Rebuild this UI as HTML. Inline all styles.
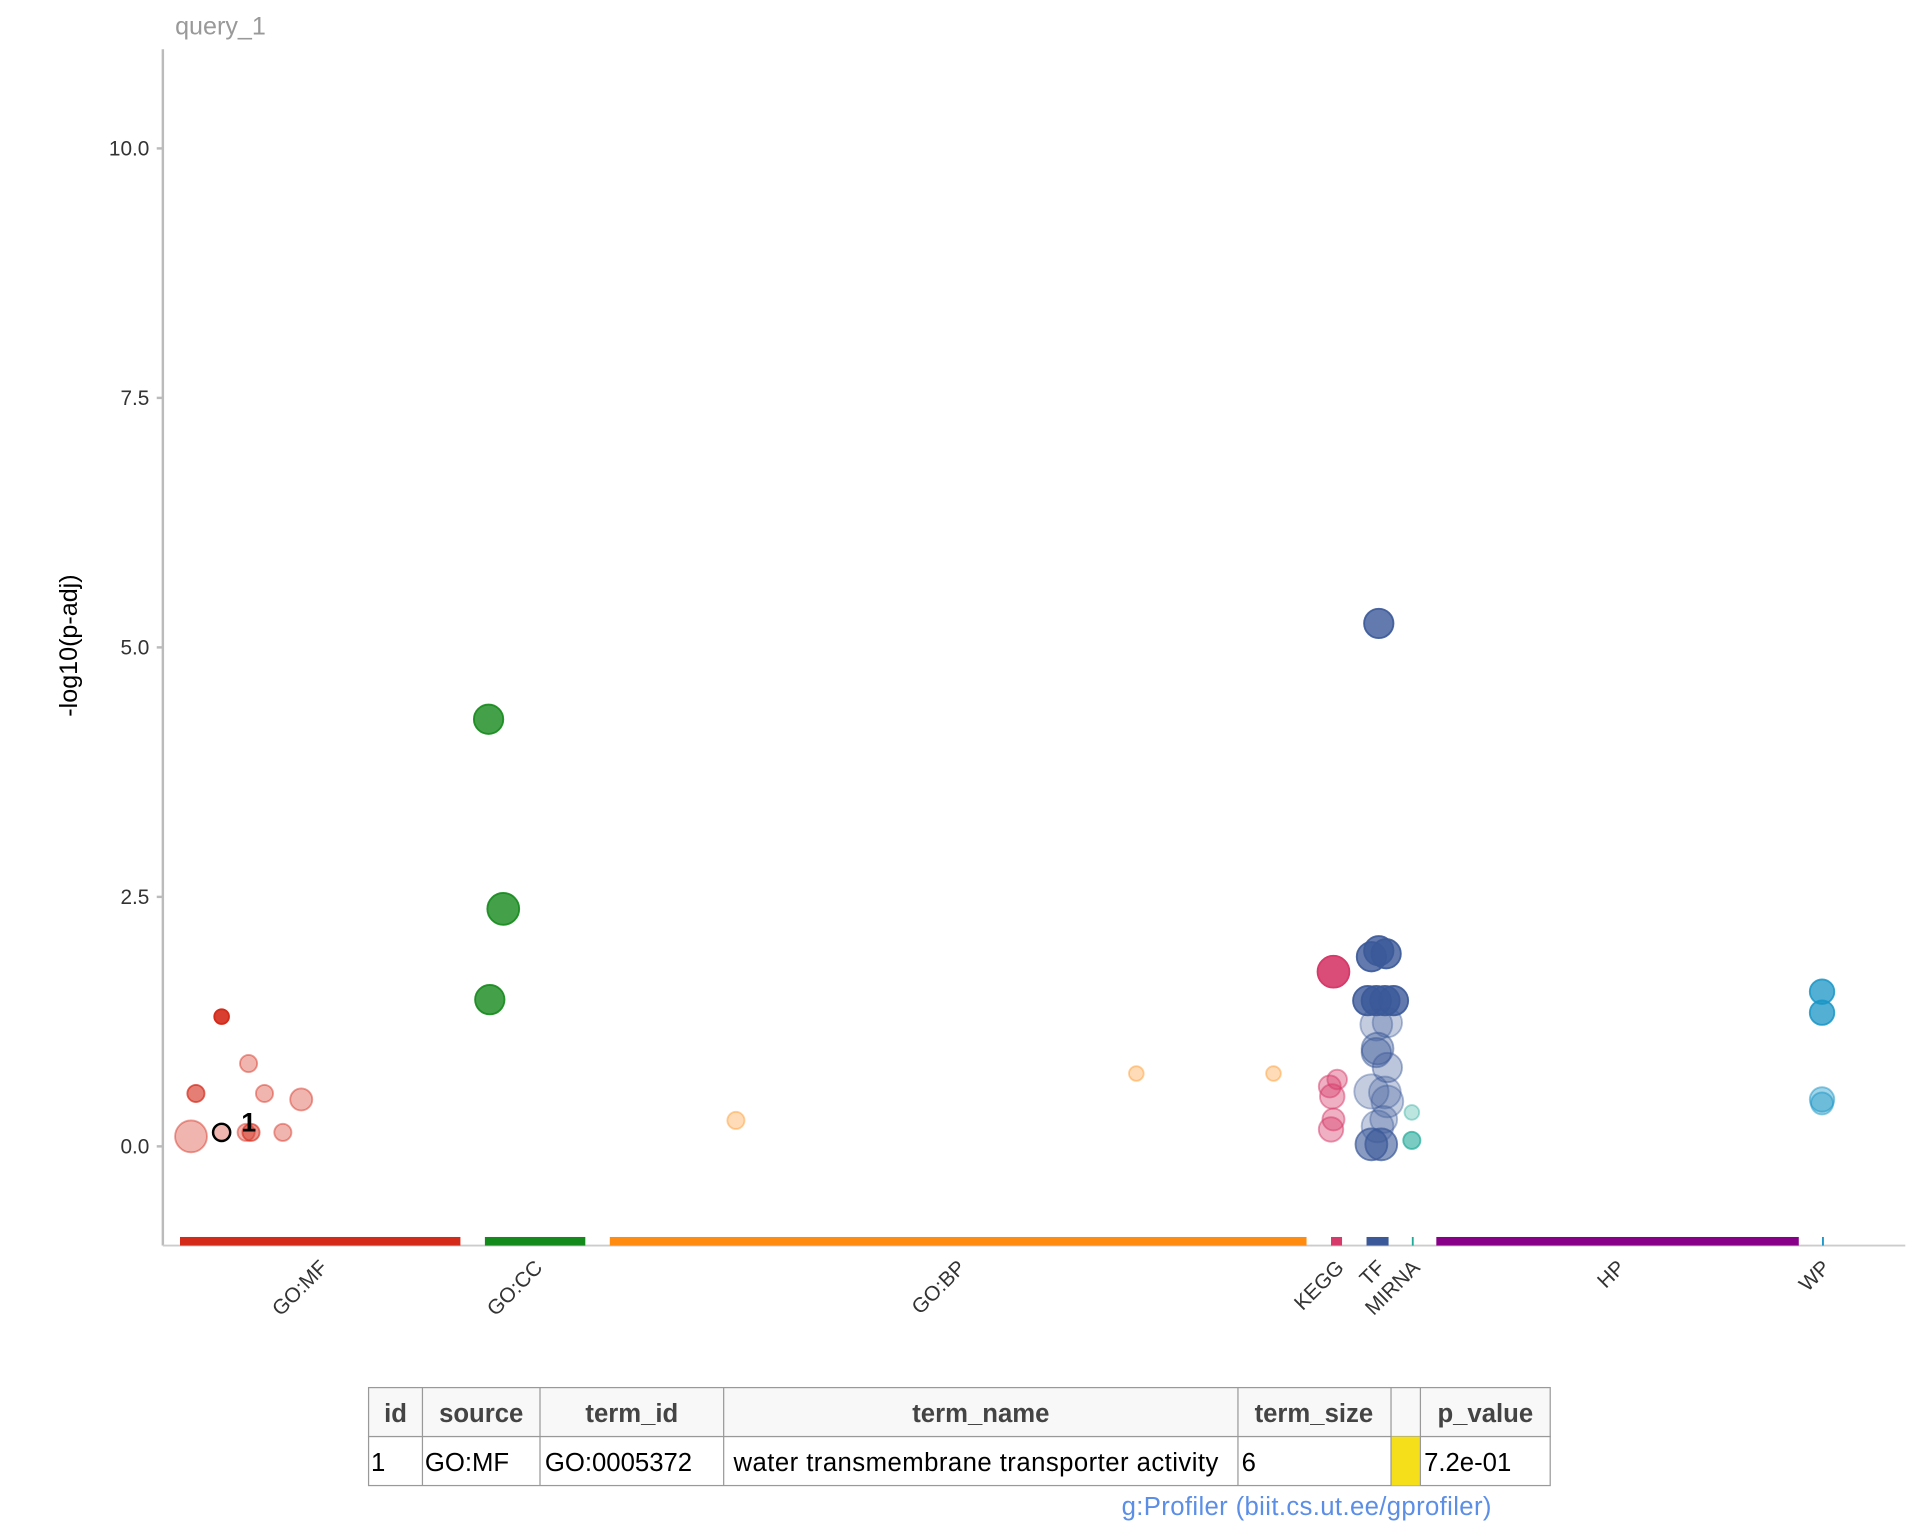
<!DOCTYPE html>
<html><head><meta charset="utf-8"><style>html,body{margin:0;padding:0;background:#fff}svg{display:block}text{font-family:"Liberation Sans",sans-serif}</style></head>
<body>
<svg id="chart" width="1920" height="1536" viewBox="0 0 1568 1254" xmlns="http://www.w3.org/2000/svg">
<text x="143" y="28" font-size="20.5" fill="#999">query_1</text>
<text transform="translate(63,527) rotate(-90)" text-anchor="middle" font-size="20.5" fill="#000">-log10(p-adj)</text>
<line x1="133" y1="40" x2="133" y2="1017" stroke="#bbb" stroke-width="2"/>
<line x1="133" y1="1017" x2="1556" y2="1017" stroke="#ccc" stroke-width="1.5"/>
<g id="yticks"></g><g id="bars"></g><g id="pts"></g><g id="xlabels"></g>
<text x="197" y="924" font-size="22" font-weight="bold" fill="#000">1</text>
<g font-size="21">
<rect x="301" y="1133" width="965" height="40" fill="#f8f8f8" stroke="#999"/>
<rect x="301" y="1173" width="965" height="40" fill="#fff" stroke="#999"/>
<rect x="1136" y="1173" width="24" height="40" fill="#f5df1b"/>
<g stroke="#999"><line x1="345" y1="1133" x2="345" y2="1213"/><line x1="441" y1="1133" x2="441" y2="1213"/><line x1="591" y1="1133" x2="591" y2="1213"/><line x1="1011" y1="1133" x2="1011" y2="1213"/><line x1="1136" y1="1133" x2="1136" y2="1213"/><line x1="1160" y1="1133" x2="1160" y2="1213"/></g>
<g font-weight="bold" fill="#444" text-anchor="middle">
<text x="323" y="1161">id</text>
<text x="393" y="1161">source</text>
<text x="516" y="1161">term_id</text>
<text x="801" y="1161">term_name</text>
<text x="1073" y="1161">term_size</text>
<text x="1213" y="1161">p_value</text>
</g>
<g fill="#000">
<text x="303" y="1201">1</text>
<text x="347" y="1201">GO:MF</text>
<text x="445" y="1201">GO:0005372</text>
<text x="599" y="1201" textLength="396">water transmembrane transporter activity</text>
<text x="1014" y="1201">6</text>
<text x="1163" y="1201">7.2e-01</text>
</g>
</g>
<text x="916" y="1237" font-size="21" textLength="302" fill="#5b8ee6">g:Profiler (biit.cs.ut.ee/gprofiler)</text>
</svg>
<script>
const yTicks=[0,2.5,5,7.5,10];
const yTickLabels=["0.0","2.5","5.0","7.5","10.0"];
const sources=["GO:MF","GO:CC","GO:BP","KEGG","TF","MIRNA","HP","WP"];
const sourceStart=[14,263,365,954,983,1020,1040,1355];
const sourceEnd=[243,345,934,963,1001,1021,1336,1356];
const sourceColors=["#d42a1a","#158a1c","#ff8c10","#d63a6a","#3b5998","#22aa99","#880088","#1a95c6"];
const ptSource=[0,0,0,0,0,0,0,0,0,0, 1,1,1, 2,2,2, 3,3,3,3,3,3, 4,4,4,4,4,4,4,4,4,4,4,4,4,4,4,4,4,4,4,4, 5,5, 7,7,7,7];
const ptX=[48,27,70,83,113,23,48,68,72,98, 266,278,267, 468,795,907, 956,953,959,955,956,954, 993,987,993,999,984,991,998,1005,991,1000,992,991,1000,987,998,1000,992,997,987,995, 1020,1020, 1355,1355,1355,1355];
const ptY=[1.30,0.53,0.83,0.53,0.47,0.10,0.14,0.14,0.14,0.14, 4.28,2.38,1.47, 0.26,0.73,0.73, 1.75,0.60,0.67,0.50,0.27,0.17, 5.24,1.90,1.96,1.93,1.46,1.46,1.46,1.46,1.22,1.24,0.98,0.94,0.79,0.55,0.54,0.45,0.20,0.27,0.02,0.02, 0.34,0.06, 1.55,1.34,0.47,0.43];
const ptSize=[6,7,7,7,9,13,7,7,7,7, 12,13,12, 7,6,6, 13,9,8,10,9,10, 12,12,12,12,12,12,12,12,13,12,13,12,12,14,13,13,13,11,13,13, 6,7, 10,10,10,9];
const ptAlpha=[0.9,0.6,0.35,0.35,0.35,0.35,0.35,0.35,0.5,0.35, 0.8,0.8,0.8, 0.3,0.3,0.3, 0.9,0.4,0.4,0.4,0.4,0.4, 0.8,0.8,0.8,0.8,0.8,0.8,0.8,0.8,0.3,0.3,0.4,0.4,0.35,0.3,0.3,0.3,0.3,0.3,0.6,0.6, 0.3,0.6, 0.75,0.75,0.4,0.4];
const highlighted=6;
const NS="http://www.w3.org/2000/svg";
const xS=v=>133+v;
const yS=v=>936-v*81.5;
function mk(tag,attrs,parent){const e=document.createElementNS(NS,tag);for(const k in attrs)e.setAttribute(k,attrs[k]);parent.appendChild(e);return e;}
const yt=document.getElementById('yticks');
yTicks.forEach((t,i)=>{
  const l=mk('line',{x1:128,x2:133,y1:yS(t),y2:yS(t),stroke:'#bbb','stroke-width':2},yt);
  
  
  const tx=mk('text',{x:122,y:yS(t)+6,'text-anchor':'end','font-size':17,fill:'#333'},yt);
  tx.textContent=yTickLabels[i];
  
  
});
const bars=document.getElementById('bars'),xl=document.getElementById('xlabels');
sources.forEach((s,i)=>{
  const w=Math.max(1.5,sourceEnd[i]-sourceStart[i]);
  const r=mk('rect',{x:xS(sourceStart[i]),y:1010,width:w,height:7,fill:sourceColors[i]},bars);
  
  
  const cx=xS((sourceStart[i]+sourceEnd[i])/2)+7;
  const t=mk('text',{transform:`translate(${cx},1036) rotate(-45)`,'text-anchor':'end','font-size':17,fill:'#333'},xl);
  t.textContent=s;
  
  
});
const pts=document.getElementById('pts');
ptX.forEach((x,i)=>{
  const col=sourceColors[ptSource[i]];
  const c=mk('circle',{cx:xS(x),cy:yS(ptY[i]),r:ptSize[i],fill:col,'fill-opacity':ptAlpha[i],stroke:col,'stroke-opacity':Math.min(1,ptAlpha[i]+0.1),'stroke-width':1.5},pts);
  if(i===highlighted){c.setAttribute('stroke','#000');c.setAttribute('stroke-opacity',1);c.setAttribute('stroke-width',2);}
  
  
});
</script>
</body></html>
